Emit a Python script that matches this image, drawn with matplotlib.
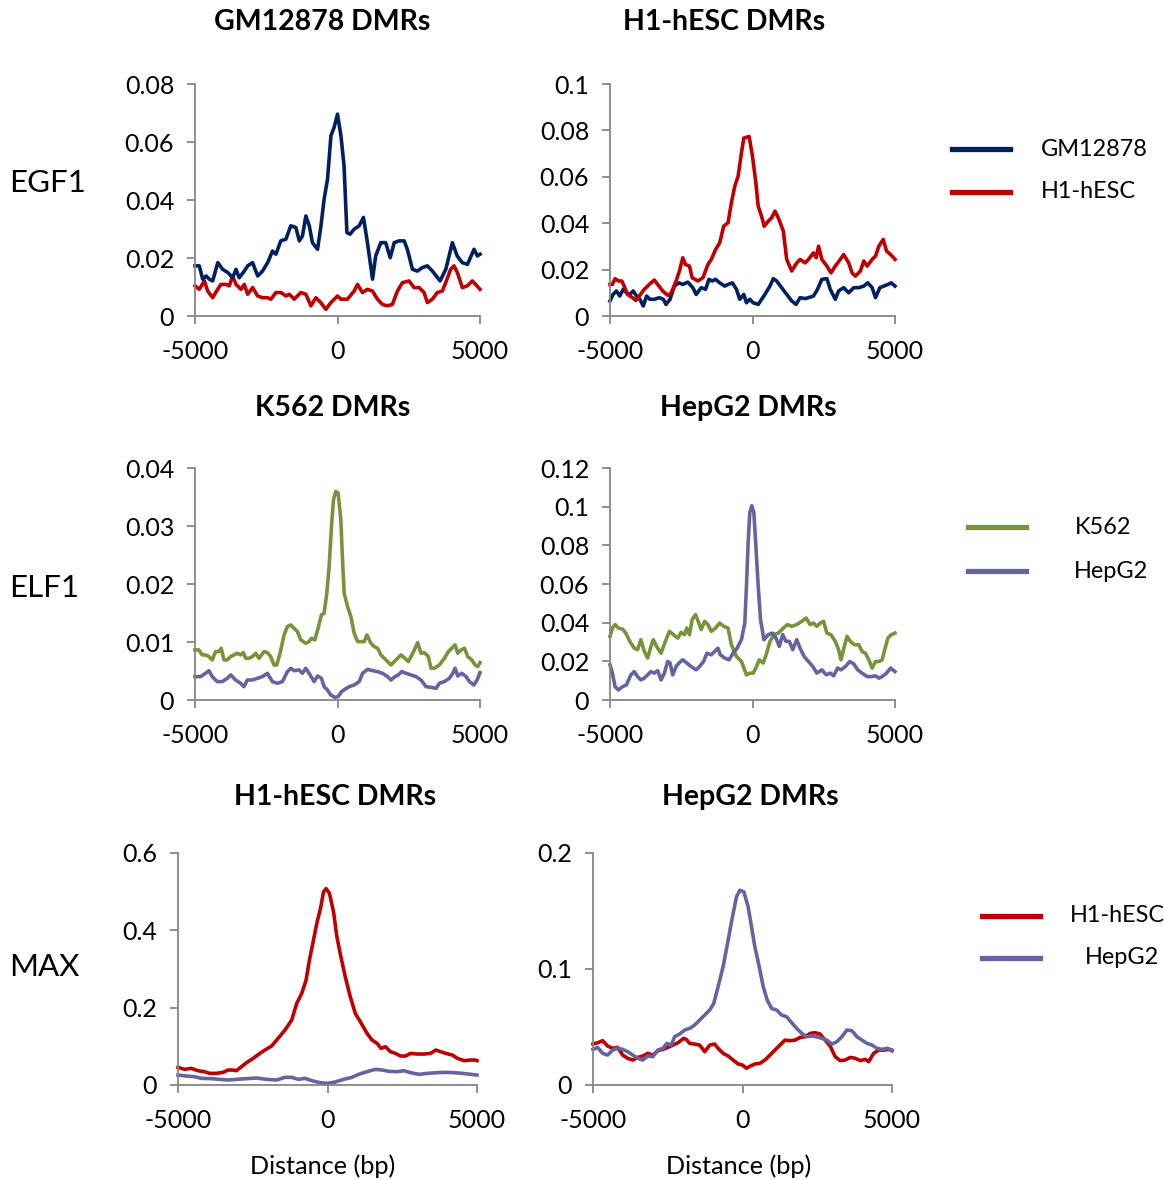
import matplotlib
matplotlib.use("Agg")
import matplotlib.pyplot as plt
from matplotlib.lines import Line2D

plt.rcParams['font.family'] = ['Lato', 'DejaVu Sans']

# ---------------- data (distance in bp, signal) ----------------
egf1_gm_dmr_gm12878 = [(-5000,.0173),(-4850,.0173),(-4730,.0127),(-4610,.0138),(-4500,.0127),(-4380,.0121),(-4200,.0184),(-4030,.0161),(-3850,.0150),(-3680,.0132),(-3560,.0161),(-3450,.0132),(-3270,.0155),(-3150,.0173),(-2980,.0184),(-2800,.0138),(-2630,.0155),(-2450,.0184),(-2280,.0224),(-2160,.0213),(-1990,.0259),(-1810,.0265),(-1640,.0311),(-1460,.0305),(-1340,.0259),(-1230,.0276),(-1110,.0345),(-990,.0311),(-880,.0253),(-700,.0230),(-580,.0311),(-470,.0403),(-350,.0472),(-230,.0622),(-120,.0650),(0,.0696),(120,.0622),(230,.0518),(330,.0288),(440,.0282),(580,.0299),(760,.0311),(910,.0340),(1050,.0253),(1230,.0127),(1340,.0207),(1520,.0253),(1690,.0253),(1850,.0201),(1990,.0253),(2160,.0259),(2340,.0259),(2450,.0230),(2630,.0161),(2800,.0155),(2980,.0167),(3150,.0173),(3330,.0155),(3600,.0121),(3800,.0161),(4030,.0253),(4200,.0207),(4380,.0184),(4560,.0178),(4790,.0230),(4910,.0207),(5000,.0213)]
egf1_gm_dmr_h1 = [(-5000,.0104),(-4850,.0092),(-4670,.0121),(-4555,.0086),(-4380,.0063),(-4205,.0092),(-4088,.0109),(-3913,.0109),(-3796,.0104),(-3680,.0138),(-3560,.0109),(-3387,.0092),(-3270,.0109),(-3154,.0075),(-2978,.0098),(-2803,.0069),(-2628,.0063),(-2453,.0063),(-2336,.0058),(-2161,.0081),(-1986,.0081),(-1810,.0069),(-1694,.0075),(-1518,.0058),(-1285,.0081),(-1110,.0075),(-934,.0035),(-759,.0063),(-584,.0046),(-409,.0023),(-234,.0046),(0,.0069),(117,.0058),(350,.0058),(584,.0086),(701,.0109),(876,.0081),(1051,.0092),(1226,.0086),(1402,.0058),(1577,.0040),(1752,.0035),(1927,.0040),(2102,.0086),(2278,.0115),(2511,.0121),(2686,.0098),(2862,.0098),(3037,.0081),(3154,.0046),(3329,.0058),(3504,.0081),(3680,.0086),(3796,.0115),(3971,.0161),(4088,.0173),(4205,.0150),(4380,.0098),(4555,.0104),(4730,.0121),(4847,.0109),(5000,.0092)]

egf1_h1_dmr_h1 = [(-5000,.0136),(-4916,.0136),(-4822,.0161),(-4704,.0151),(-4586,.0151),(-4504,.0129),(-4386,.0093),(-4210,.0079),(-4092,.0067),(-3975,.0086),(-3798,.0115),(-3622,.0136),(-3446,.0155),(-3328,.0136),(-3152,.0108),(-2975,.0089),(-2858,.0098),(-2681,.0151),(-2564,.0194),(-2446,.0251),(-2352,.0222),(-2211,.0215),(-2117,.0165),(-1917,.0151),(-1740,.0165),(-1564,.0222),(-1446,.0244),(-1294,.0287),(-1152,.0315),(-1011,.0387),(-858,.0402),(-741,.0488),(-623,.0559),(-506,.0602),(-388,.0703),(-306,.0767),(-118,.0774),(0,.0688),(118,.0574),(200,.0473),(318,.0430),(412,.0387),(553,.0409),(670,.0423),(788,.0452),(906,.0423),(1082,.0366),(1200,.0244),(1376,.0194),(1552,.0229),(1670,.0244),(1846,.0229),(1964,.0244),(2140,.0272),(2234,.0251),(2317,.0301),(2434,.0244),(2611,.0215),(2752,.0186),(2905,.0215),(3081,.0244),(3199,.0265),(3375,.0229),(3493,.0186),(3610,.0172),(3787,.0194),(3904,.0237),(4022,.0215),(4198,.0244),(4316,.0258),(4434,.0301),(4586,.0330),(4704,.0280),(4845,.0265),(5000,.0244)]
egf1_h1_dmr_gm12878 = [(-5000,.0065),(-4892,.0093),(-4775,.0108),(-4657,.0086),(-4539,.0115),(-4422,.0100),(-4304,.0093),(-4187,.0108),(-4069,.0086),(-3951,.0072),(-3834,.0043),(-3716,.0086),(-3599,.0072),(-3446,.0072),(-3269,.0079),(-3128,.0072),(-3034,.0050),(-2893,.0072),(-2740,.0129),(-2587,.0143),(-2446,.0136),(-2270,.0146),(-2093,.0122),(-1976,.0093),(-1799,.0122),(-1646,.0115),(-1529,.0158),(-1411,.0151),(-1294,.0158),(-1152,.0143),(-976,.0129),(-858,.0136),(-706,.0143),(-564,.0115),(-447,.0072),(-306,.0093),(-212,.0057),(-94,.0072),(24,.0057),(200,.0050),(435,.0093),(612,.0129),(729,.0161),(847,.0151),(1023,.0122),(1200,.0093),(1376,.0065),(1529,.0050),(1670,.0079),(1846,.0075),(1964,.0079),(2140,.0086),(2281,.0115),(2434,.0158),(2611,.0161),(2728,.0115),(2905,.0072),(3022,.0108),(3199,.0122),(3375,.0100),(3552,.0122),(3728,.0122),(3904,.0129),(4045,.0143),(4198,.0122),(4316,.0079),(4469,.0122),(4610,.0129),(4751,.0136),(4869,.0143),(5000,.0129)]

elf1_k562_dmr_k562 = [(-5000,.00863),(-4864,.00863),(-4747,.00777),(-4629,.00777),(-4512,.00748),(-4395,.00691),(-4278,.00834),(-4161,.00834),(-4079,.00892),(-3985,.00691),(-3868,.00691),(-3750,.00748),(-3633,.00777),(-3516,.00806),(-3399,.00777),(-3305,.00817),(-3223,.00719),(-3106,.00719),(-2989,.00748),(-2871,.00806),(-2754,.00719),(-2578,.00834),(-2461,.00817),(-2344,.00748),(-2227,.00604),(-2133,.00604),(-2016,.00806),(-1875,.01122),(-1758,.01266),(-1641,.01295),(-1524,.01237),(-1406,.01180),(-1289,.01036),(-1113,.00978),(-996,.01007),(-914,.01065),(-797,.01036),(-680,.01237),(-563,.01468),(-469,.01496),(-375,.01842),(-293,.02302),(-211,.02993),(-141,.03453),(-59,.03597),(23,.03568),(117,.03108),(176,.02417),(234,.01842),(352,.01611),(469,.01439),(586,.01151),(703,.01007),(820,.01007),(938,.01007),(1031,.01122),(1172,.00978),(1289,.00921),(1406,.00892),(1524,.00777),(1699,.00691),(1875,.00604),(2051,.00691),(2227,.00777),(2367,.00719),(2485,.00662),(2578,.00748),(2696,.00863),(2813,.00990),(2930,.00806),(3047,.00817),(3188,.00748),(3282,.00547),(3399,.00547),(3575,.00604),(3750,.00719),(3891,.00834),(4008,.00892),(4125,.00950),(4219,.00806),(4336,.00863),(4454,.00892),(4571,.00748),(4711,.00691),(4829,.00604),(4922,.00576),(5000,.00645)]
elf1_k562_dmr_hepg2 = [(-5000,.00403),(-4805,.00403),(-4629,.00460),(-4512,.00506),(-4395,.00403),(-4219,.00317),(-4043,.00317),(-3868,.00374),(-3750,.00432),(-3575,.00345),(-3399,.00288),(-3282,.00230),(-3164,.00345),(-2989,.00345),(-2813,.00374),(-2637,.00403),(-2461,.00460),(-2285,.00317),(-2110,.00288),(-1934,.00317),(-1758,.00489),(-1641,.00547),(-1524,.00506),(-1348,.00518),(-1231,.00460),(-1113,.00547),(-961,.00432),(-820,.00317),(-703,.00414),(-563,.00374),(-469,.00230),(-352,.00173),(-234,.00086),(-94,.00046),(23,.00058),(141,.00144),(258,.00184),(410,.00230),(586,.00259),(762,.00317),(879,.00460),(1055,.00529),(1231,.00506),(1406,.00489),(1582,.00460),(1758,.00403),(1875,.00345),(2016,.00403),(2133,.00432),(2250,.00489),(2403,.00460),(2578,.00432),(2754,.00403),(2930,.00345),(3106,.00230),(3282,.00219),(3458,.00201),(3575,.00288),(3750,.00317),(3926,.00374),(4043,.00460),(4125,.00547),(4219,.00414),(4360,.00460),(4512,.00403),(4629,.00317),(4782,.00259),(4899,.00345),(5000,.00472)]

elf1_hepg2_dmr_k562 = [(-5000,.0329),(-4916,.0372),(-4822,.0390),(-4704,.0372),(-4563,.0367),(-4445,.0346),(-4304,.0303),(-4151,.0268),(-4034,.0260),(-3916,.0312),(-3798,.0251),(-3681,.0217),(-3563,.0277),(-3481,.0312),(-3363,.0277),(-3210,.0242),(-3058,.0303),(-2916,.0355),(-2775,.0338),(-2622,.0320),(-2505,.0350),(-2387,.0338),(-2305,.0372),(-2211,.0338),(-2117,.0416),(-1999,.0442),(-1882,.0398),(-1799,.0364),(-1682,.0407),(-1564,.0390),(-1446,.0355),(-1294,.0372),(-1152,.0398),(-1011,.0381),(-858,.0372),(-741,.0286),(-564,.0225),(-388,.0199),(-212,.0130),(-94,.0139),(24,.0139),(141,.0173),(235,.0208),(376,.0191),(494,.0242),(612,.0303),(753,.0338),(906,.0346),(1082,.0372),(1223,.0390),(1376,.0381),(1552,.0390),(1729,.0407),(1882,.0424),(2023,.0390),(2140,.0398),(2258,.0381),(2376,.0398),(2493,.0407),(2611,.0346),(2752,.0338),(2905,.0303),(3022,.0260),(3105,.0208),(3222,.0277),(3316,.0329),(3434,.0303),(3575,.0286),(3728,.0286),(3845,.0251),(3963,.0242),(4081,.0208),(4198,.0165),(4316,.0199),(4434,.0199),(4551,.0208),(4669,.0277),(4751,.0320),(4869,.0338),(5000,.0346)]
elf1_hepg2_dmr_hepg2 = [(-5000,.0182),(-4916,.0139),(-4822,.0069),(-4704,.0052),(-4563,.0069),(-4422,.0078),(-4269,.0130),(-4151,.0147),(-4034,.0121),(-3916,.0104),(-3798,.0113),(-3681,.0130),(-3563,.0147),(-3446,.0139),(-3328,.0152),(-3210,.0104),(-3093,.0139),(-2975,.0199),(-2893,.0191),(-2799,.0130),(-2681,.0173),(-2564,.0194),(-2446,.0208),(-2305,.0191),(-2152,.0173),(-1976,.0156),(-1858,.0173),(-1717,.0199),(-1599,.0242),(-1446,.0234),(-1329,.0251),(-1211,.0268),(-1129,.0234),(-976,.0217),(-823,.0208),(-682,.0242),(-541,.0268),(-388,.0312),(-270,.0398),(-212,.0589),(-153,.0814),(-94,.0970),(-24,.1005),(47,.0970),(118,.0797),(200,.0589),(282,.0416),(400,.0312),(553,.0338),(706,.0346),(823,.0320),(941,.0277),(1058,.0338),(1176,.0303),(1294,.0303),(1411,.0260),(1552,.0312),(1670,.0268),(1811,.0225),(1964,.0199),(2117,.0173),(2258,.0139),(2434,.0156),(2587,.0130),(2728,.0139),(2846,.0125),(2987,.0165),(3105,.0156),(3258,.0173),(3410,.0199),(3552,.0187),(3693,.0156),(3845,.0139),(4022,.0121),(4163,.0121),(4316,.0125),(4434,.0113),(4551,.0121),(4704,.0139),(4845,.0165),(5000,.0147)]

max_h1_dmr_h1 = [(-5000,.0456),(-4782,.0405),(-4558,.0431),(-4334,.0370),(-4110,.0344),(-3942,.0301),(-3718,.0301),(-3494,.0327),(-3326,.0387),(-3158,.0387),(-3046,.0370),(-2878,.0474),(-2710,.0577),(-2486,.0689),(-2262,.0818),(-2094,.0904),(-1870,.1007),(-1702,.1162),(-1422,.1421),(-1198,.1679),(-1030,.2109),(-862,.2368),(-717,.2712),(-605,.3229),(-470,.3745),(-358,.4176),(-224,.4606),(-134,.4994),(-45,.5080),(67,.4951),(202,.4477),(314,.3831),(448,.3315),(594,.2798),(762,.2282),(930,.1851),(1098,.1636),(1322,.1335),(1490,.1162),(1658,.1076),(1792,.0947),(1938,.0990),(2106,.0861),(2274,.0818),(2442,.0749),(2610,.0749),(2778,.0818),(3002,.0801),(3226,.0801),(3450,.0818),(3618,.0904),(3786,.0861),(3954,.0818),(4178,.0775),(4346,.0689),(4570,.0629),(4771,.0646),(4928,.0646),(5000,.0629)]
max_h1_dmr_hepg2 = [(-5000,.0258),(-4726,.0232),(-4446,.0215),(-4222,.0172),(-3886,.0164),(-3606,.0146),(-3326,.0129),(-3046,.0146),(-2710,.0164),(-2374,.0181),(-2038,.0146),(-1702,.0129),(-1422,.0198),(-1198,.0198),(-974,.0146),(-750,.0172),(-526,.0112),(-246,.0060),(0,.0043),(258,.0077),(538,.0146),(818,.0198),(1042,.0276),(1322,.0344),(1602,.0405),(1826,.0387),(2050,.0353),(2330,.0344),(2554,.0370),(2778,.0319),(3058,.0276),(3338,.0301),(3674,.0319),(3954,.0327),(4234,.0319),(4514,.0301),(4794,.0276),(5000,.0258)]

max_hepg2_dmr_h1 = [(-5000,.0353),(-4845,.0364),(-4677,.0382),(-4510,.0336),(-4342,.0316),(-4174,.0324),(-4006,.0258),(-3838,.0230),(-3670,.0215),(-3502,.0238),(-3335,.0250),(-3167,.0273),(-2999,.0258),(-2831,.0296),(-2663,.0307),(-2495,.0324),(-2328,.0344),(-2160,.0364),(-1969,.0402),(-1880,.0393),(-1768,.0359),(-1600,.0353),(-1432,.0344),(-1264,.0287),(-1097,.0344),(-929,.0353),(-817,.0316),(-649,.0273),(-481,.0250),(-313,.0215),(-145,.0181),(0,.0172),(134,.0144),(269,.0164),(414,.0181),(582,.0187),(750,.0215),(918,.0258),(1085,.0301),(1253,.0344),(1421,.0387),(1589,.0382),(1757,.0387),(1925,.0410),(2093,.0416),(2260,.0445),(2428,.0451),(2596,.0439),(2764,.0387),(2932,.0336),(3100,.0244),(3268,.0210),(3435,.0215),(3603,.0238),(3771,.0230),(3939,.0210),(4107,.0221),(4219,.0201),(4386,.0273),(4554,.0301),(4722,.0301),(4890,.0307),(5000,.0296)]
max_hepg2_dmr_hepg2 = [(-5000,.0307),(-4845,.0324),(-4677,.0273),(-4510,.0258),(-4342,.0301),(-4174,.0316),(-4006,.0307),(-3838,.0287),(-3670,.0258),(-3502,.0230),(-3335,.0215),(-3167,.0250),(-2999,.0244),(-2831,.0301),(-2663,.0316),(-2529,.0359),(-2383,.0344),(-2272,.0416),(-2104,.0439),(-1936,.0474),(-1768,.0488),(-1600,.0517),(-1432,.0560),(-1264,.0603),(-1097,.0646),(-962,.0703),(-817,.0847),(-649,.1019),(-481,.1248),(-336,.1449),(-201,.1622),(-90,.1679),(45,.1665),(190,.1535),(302,.1363),(414,.1191),(560,.1019),(694,.0847),(828,.0732),(974,.0660),(1141,.0646),(1309,.0603),(1477,.0588),(1645,.0537),(1813,.0488),(1981,.0445),(2148,.0416),(2316,.0422),(2484,.0416),(2652,.0402),(2820,.0387),(2988,.0353),(3156,.0373),(3323,.0416),(3491,.0474),(3659,.0468),(3827,.0416),(3995,.0387),(4163,.0359),(4331,.0344),(4498,.0316),(4666,.0307),(4834,.0316),(5000,.0301)]

x_ticks = [-5000, 0, 5000]
x_tick_labels = ['-5000', '0', '5000']
yt_egf1_gm = [0, 0.02, 0.04, 0.06, 0.08]
yt_egf1_h1 = [0, 0.02, 0.04, 0.06, 0.08, 0.1]
yt_elf1_k562 = [0, 0.01, 0.02, 0.03, 0.04]
yt_elf1_hepg2 = [0, 0.02, 0.04, 0.06, 0.08, 0.1, 0.12]
yt_max_h1 = [0, 0.2, 0.4, 0.6]
yt_max_hepg2 = [0, 0.1, 0.2]

panel_titles = ['GM12878 DMRs', 'H1-hESC DMRs', 'K562 DMRs', 'HepG2 DMRs', 'H1-hESC DMRs', 'HepG2 DMRs']
row_labels = ['EGF1', 'ELF1', 'MAX']
x_label = 'Distance (bp)'

C_GM = '#002060'
C_H1 = '#C00000'
C_K562 = '#77933C'
C_HEPG2 = '#64649E'
AX_GRAY = '#868686'

W, H = 1164, 1180
fig = plt.figure(figsize=(W / 100, H / 100), dpi=100)


def fx(px):
    return px / W


def fy(py):
    return 1 - py / H


def make_ax(x0, x1, ytop, ybot):
    return fig.add_axes([fx(x0), fy(ybot), fx(x1) - fx(x0), (ybot - ytop) / H])


def fmt(v):
    if v == 0:
        return '0'
    return ('%.2f' % v).rstrip('0')


def style(ax, yticks):
    ax.set_xlim(-5000, 5000)
    ax.set_ylim(yticks[0], yticks[-1])
    ax.set_xticks(x_ticks)
    ax.set_xticklabels(x_tick_labels)
    ax.set_yticks(yticks)
    ax.set_yticklabels([fmt(v) for v in yticks])
    for s in ('top', 'right'):
        ax.spines[s].set_visible(False)
    for s in ('left', 'bottom'):
        ax.spines[s].set_color(AX_GRAY)
        ax.spines[s].set_linewidth(1.3)
    ax.tick_params(axis='both', direction='out', length=6, width=1.3, color=AX_GRAY,
                   labelsize=18, labelcolor='black')
    ax.tick_params(axis='y', pad=9)
    ax.tick_params(axis='x', pad=11)
    ax.patch.set_visible(False)


def plot_series(ax, pts, color):
    xs = [p[0] for p in pts]
    ys = [p[1] for p in pts]
    ax.plot(xs, ys, color=color, lw=2.6, solid_joinstyle='round', clip_on=False)


# row 1: EGF1
ax1 = make_ax(195, 480, 84, 316)
plot_series(ax1, egf1_gm_dmr_h1, C_H1)
plot_series(ax1, egf1_gm_dmr_gm12878, C_GM)
style(ax1, yt_egf1_gm)

ax2 = make_ax(610, 895, 84, 316)
plot_series(ax2, egf1_h1_dmr_gm12878, C_GM)
plot_series(ax2, egf1_h1_dmr_h1, C_H1)
style(ax2, yt_egf1_h1)

# row 2: ELF1
ax3 = make_ax(195, 480, 468, 700)
plot_series(ax3, elf1_k562_dmr_hepg2, C_HEPG2)
plot_series(ax3, elf1_k562_dmr_k562, C_K562)
style(ax3, yt_elf1_k562)

ax4 = make_ax(610, 895, 468, 700)
plot_series(ax4, elf1_hepg2_dmr_k562, C_K562)
plot_series(ax4, elf1_hepg2_dmr_hepg2, C_HEPG2)
style(ax4, yt_elf1_hepg2)

# row 3: MAX
ax5 = make_ax(178, 477, 853, 1085)
plot_series(ax5, max_h1_dmr_hepg2, C_HEPG2)
plot_series(ax5, max_h1_dmr_h1, C_H1)
style(ax5, yt_max_h1)

ax6 = make_ax(593, 892, 853, 1085)
plot_series(ax6, max_hepg2_dmr_h1, C_H1)
plot_series(ax6, max_hepg2_dmr_hepg2, C_HEPG2)
style(ax6, yt_max_hepg2)

# titles
title_pos = [(322, 22), (724, 22), (333, 408), (748, 408), (335, 797), (750, 797)]
for t, (px, py) in zip(panel_titles, title_pos):
    fig.text(fx(px), fy(py), t, ha='center', va='center', fontsize=20.5, fontweight='bold')

# row labels
for t, py in zip(row_labels, [183, 588, 967]):
    fig.text(fx(9), fy(py), t, ha='left', va='center', fontsize=22.5)

# x axis labels
for px in (323, 739):
    fig.text(fx(px), fy(1166), x_label, ha='center', va='center', fontsize=18.2)

# legends
legends = [
    [('GM12878', C_GM, 952, 1010, 149, 1041), ('H1-hESC', C_H1, 952, 1010, 192, 1041)],
    [('K562', C_K562, 968, 1026, 527, 1075), ('HepG2', C_HEPG2, 968, 1026, 571, 1074)],
    [('H1-hESC', C_H1, 982, 1040, 916, 1070), ('HepG2', C_HEPG2, 982, 1040, 958, 1085)],
]
for leg in legends:
    for label, color, x0, x1, py, tx in leg:
        fig.add_artist(Line2D([fx(x0), fx(x1)], [fy(py), fy(py)], color=color, lw=3.8,
                              transform=fig.transFigure))
        fig.text(fx(tx), fy(py), label, ha='left', va='center', fontsize=16.9)

fig.savefig('out.png', dpi=100)
